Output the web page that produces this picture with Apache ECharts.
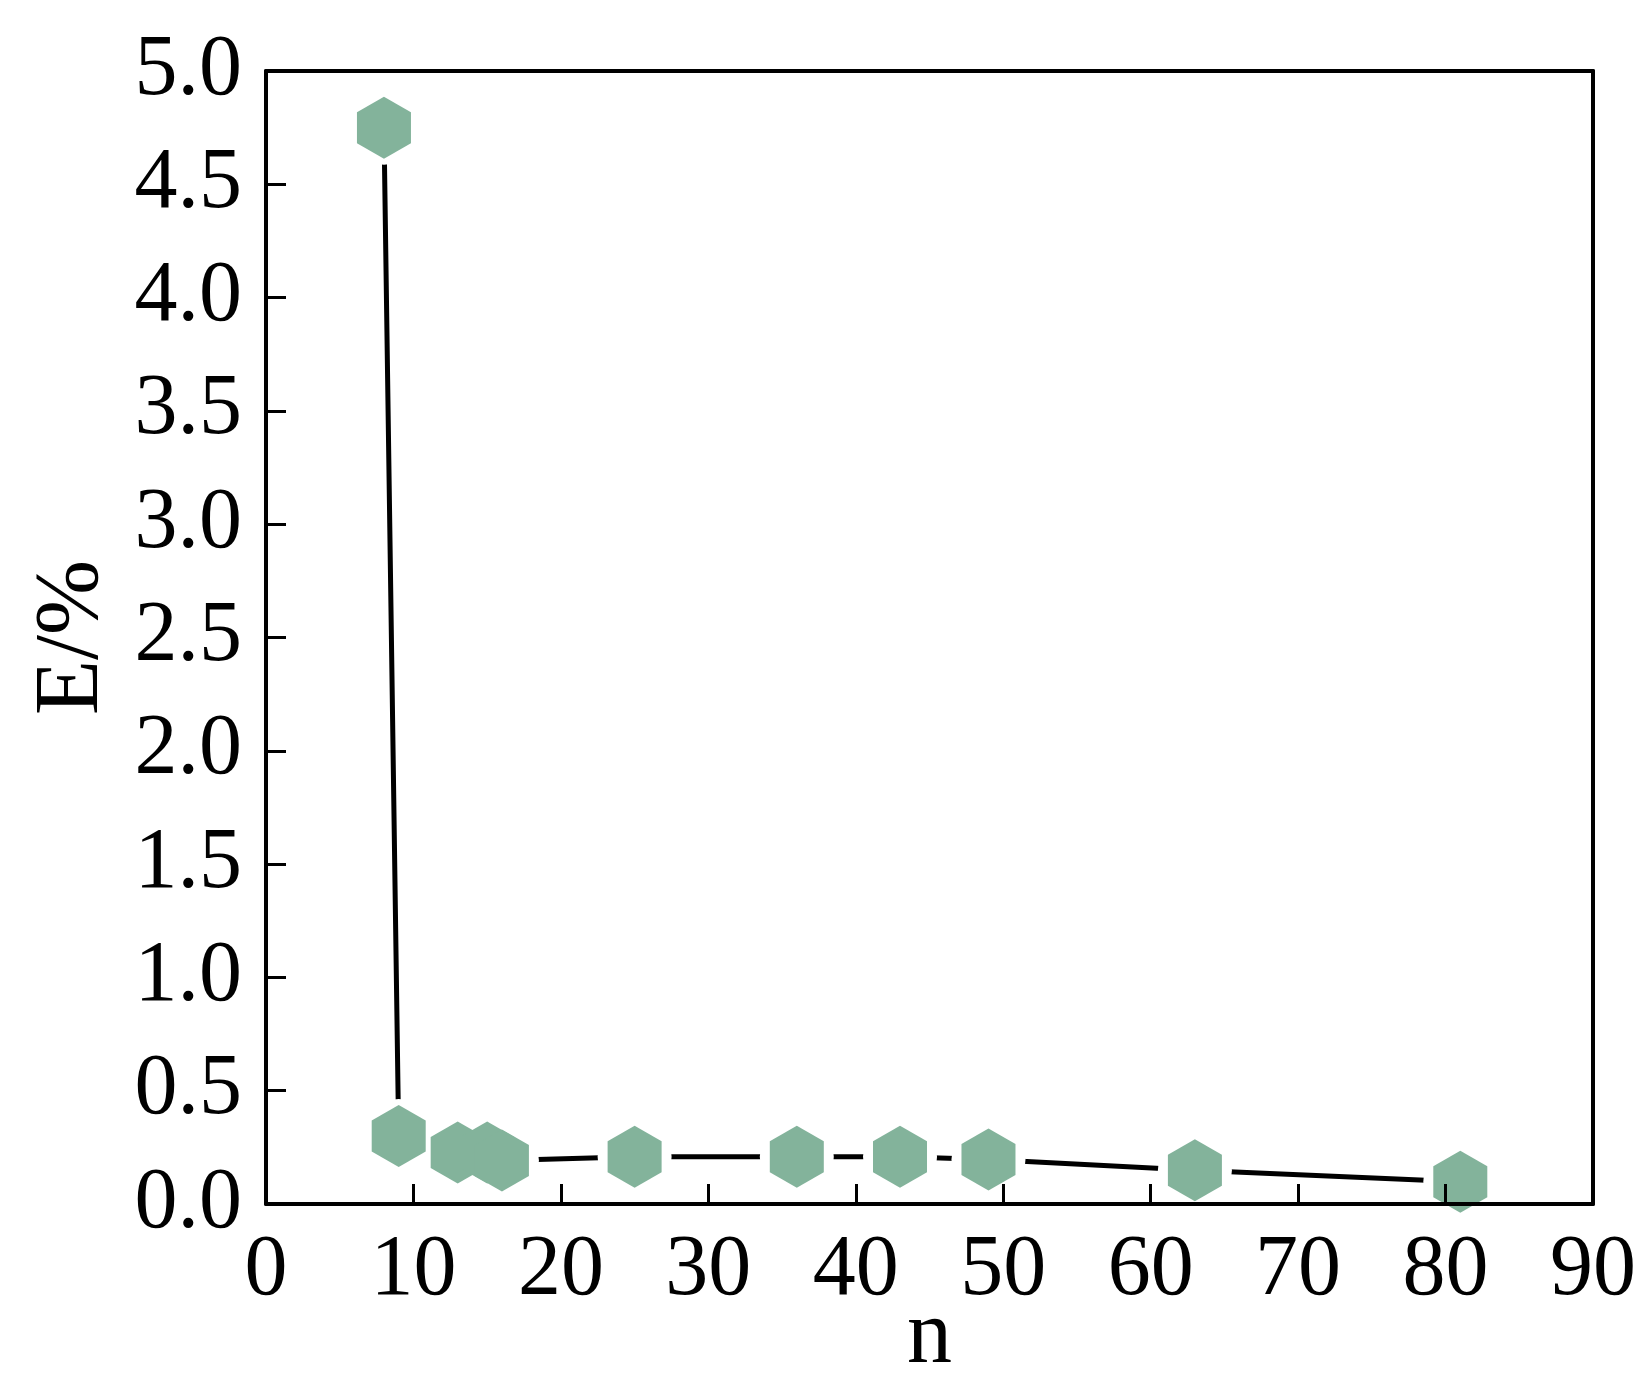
<!DOCTYPE html>
<html>
<head>
<meta charset="utf-8">
<script src="https://cdn.jsdelivr.net/npm/echarts@6/dist/echarts.min.js"></script>
<style>
  html, body { margin: 0; padding: 0; background: #fff; }
  #chart { width: 1652px; height: 1389px; }
</style>
</head>
<body>
<div id="chart"></div>
<script>
// data
var nValues = [8, 9, 13, 15, 16, 25, 36, 43, 49, 63, 81];
var errValues = [4.75, 0.30, 0.227, 0.227, 0.192, 0.209, 0.209, 0.209, 0.196, 0.149, 0.098];
var xTicks = [0, 10, 20, 30, 40, 50, 60, 70, 80, 90];
var yTicks = [0, 0.5, 1, 1.5, 2, 2.5, 3, 3.5, 4, 4.5, 5];

var points = nValues.map(function (n, i) { return [n, errValues[i]]; });

var hexagon = 'path://M0,-1 L0.866,-0.5 L0.866,0.5 L0,1 L-0.866,0.5 L-0.866,-0.5 Z';
var fontName = 'Liberation Serif';
var green = '#83b39b';

var chart = echarts.init(document.getElementById('chart'));

var frameAxis = {
  axisLine: { show: true, onZero: false, lineStyle: { color: '#000', width: 4 } },
  axisTick: { show: false },
  axisLabel: { show: false },
  splitLine: { show: false },
  z: 10
};

var option = {
  backgroundColor: '#fff',
  animation: false,
  grid: { left: 266, top: 71, right: 59, bottom: 185, containLabel: false, outerBoundsMode: 'none' },
  xAxis: [
    {
      type: 'value',
      min: 0, max: 90, interval: 10,
      position: 'bottom',
      name: 'n',
      nameLocation: 'middle',
      nameGap: 89,
      nameMoveOverlap: false,
      nameTextStyle: { fontFamily: fontName, fontSize: 90, color: '#000' },
      axisLine: { show: true, onZero: false, lineStyle: { color: '#000', width: 4 } },
      axisTick: { show: true, inside: true, length: 20, lineStyle: { color: '#000', width: 3 } },
      axisLabel: {
        fontFamily: fontName, fontSize: 86, color: '#000', margin: 24,
        formatter: function (v) { return xTicks.indexOf(v) >= 0 ? String(v) : ''; }
      },
      splitLine: { show: false },
      z: 10
    },
    Object.assign({ type: 'value', min: 0, max: 90, position: 'top' }, frameAxis)
  ],
  yAxis: [
    {
      type: 'value',
      min: 0, max: 5, interval: 0.5,
      position: 'left',
      name: 'E/%',
      nameLocation: 'middle',
      nameGap: 148,
      nameMoveOverlap: false,
      nameTextStyle: { fontFamily: fontName, fontSize: 90, color: '#000' },
      axisLine: { show: true, onZero: false, lineStyle: { color: '#000', width: 4 } },
      axisTick: { show: true, inside: true, length: 20, lineStyle: { color: '#000', width: 3 } },
      axisLabel: {
        fontFamily: fontName, fontSize: 86, color: '#000', margin: 24,
        formatter: function (v) {
          return yTicks.indexOf(v) >= 0 ? v.toFixed(1) : '';
        }
      },
      splitLine: { show: false },
      z: 10
    },
    Object.assign({ type: 'value', min: 0, max: 5, position: 'right' }, frameAxis)
  ],
  series: [
    {
      // black line, white disc under each marker leaves the gap
      type: 'line',
      data: points,
      symbol: 'circle',
      symbolSize: 74,
      itemStyle: { color: '#fff', borderWidth: 0 },
      lineStyle: { color: '#000', width: 5 },
      clip: false,
      z: 2
    },
    {
      type: 'scatter',
      data: points,
      symbol: hexagon,
      symbolSize: [54, 62],
      itemStyle: { color: green, opacity: 1 },
      clip: false,
      z: 3
    }
  ]
};

chart.setOption(option);
</script>
</body>
</html>
